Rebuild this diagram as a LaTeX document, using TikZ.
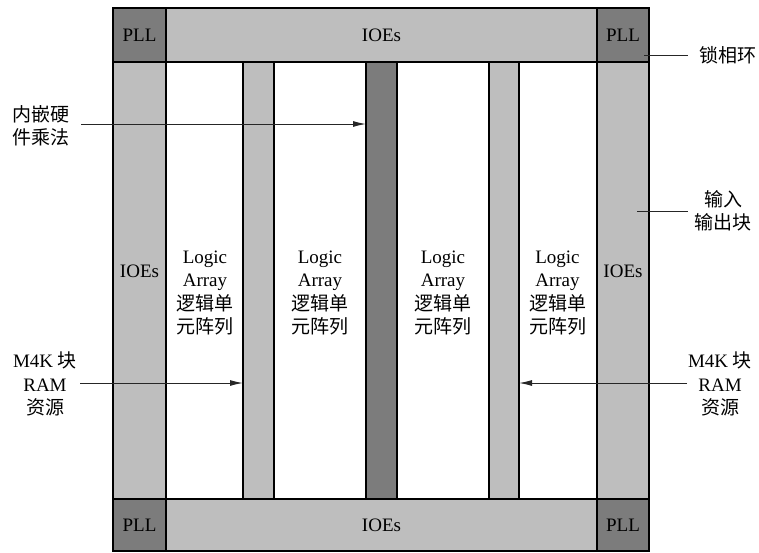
\documentclass[tikz,border=0pt]{standalone}
\usepackage{fontspec}
\setmainfont{Liberation Serif}
\newfontfamily\cjk{Noto Sans CJK SC}
\usetikzlibrary{arrows.meta}
\definecolor{barlight}{RGB}{190,190,190}
\definecolor{bardark}{RGB}{124,124,124}
\begin{document}
\begin{tikzpicture}[x=1pt,y=-1pt,
  cell/.style={draw=black, line width=1.3pt, rectangle, inner sep=0pt, outer sep=0pt,
    font=\fontsize{19}{22}\selectfont},
  light/.style={cell, fill=barlight},
  dark/.style={cell, fill=bardark},
  txt/.style={font=\fontsize{19}{23.5}\selectfont, align=center, inner sep=0pt},
  ann/.style={draw=black!85, line width=1pt},
  arr/.style={ann, -{Latex[length=13pt,width=6pt]}}
]
\useasboundingbox (0,0) rectangle (759,552);

% top row
\node[dark,  minimum width=53pt,  minimum height=54pt] (pllTL) at (139.5,35) {PLL};
\node[light, minimum width=431pt, minimum height=54pt] (ioeT)  at (381.5,35) {IOEs};
\node[dark,  minimum width=52pt,  minimum height=54pt] (pllTR) at (623,35)   {PLL};

% side I/O columns
\node[light, minimum width=53pt, minimum height=437pt] (ioeL) at (139.5,280.5) {};
\node[light, minimum width=52pt, minimum height=437pt] (ioeR) at (623,280.5) {};
\node[txt] (ioeLt) at (139.5,271) {IOEs};
\node[txt] (ioeRt) at (623,271) {IOEs};

% memory and multiplier columns
\node[light, minimum width=31pt, minimum height=437pt] (ram1) at (258.5,280.5) {};
\node[dark,  minimum width=31pt, minimum height=437pt] (mul)  at (381.5,280.5) {};
\node[light, minimum width=30pt, minimum height=437pt] (ram2) at (504,280.5) {};

% bottom row
\node[dark,  minimum width=53pt,  minimum height=52pt] (pllBL) at (139.5,525) {PLL};
\node[light, minimum width=431pt, minimum height=52pt] (ioeB)  at (381.5,525) {IOEs};
\node[dark,  minimum width=52pt,  minimum height=52pt] (pllBR) at (623,525)   {PLL};

% outer frame
\draw[line width=1.3pt] (pllTL.north west) rectangle (pllBR.south east);

% logic array blocks
\foreach \cx/\nm in {205/la1, 320/la2, 443/la3, 557.5/la4}
  \node[txt] (\nm) at (\cx,293) {Logic\\Array\\{\cjk 逻辑单}\\{\cjk 元阵列}};

% annotations
\node[txt] (mulLbl) at (41,126) {{\cjk 内嵌硬}\\{\cjk 件乘法}};
\coordinate (mulFrom) at (81,124);
\draw[arr] (mulFrom) -- (mulFrom -| mul.west);

\node[txt] (ramLbl1) at (45,384) {M4K {\cjk 块}\\RAM\\{\cjk 资源}};
\coordinate (ramFrom1) at (80,383);
\draw[arr] (ramFrom1) -- (ramFrom1 -| ram1.west);

\node[txt] (ramLbl2) at (720,384) {M4K {\cjk 块}\\RAM\\{\cjk 资源}};
\coordinate (ramFrom2) at (687,383);
\draw[arr] (ramFrom2) -- (ramFrom2 -| ram2.east);

\node[txt] (pllLbl) at (728,55) {\cjk 锁相环};
\coordinate (pllTo) at (688,55);
\coordinate (pllIn) at (644,55);
\draw[ann] (pllIn) -- (pllTo);

\node[txt] (ioLbl) at (723,211) {{\cjk 输入}\\{\cjk 输出块}};
\coordinate (ioTo) at (688,211);
\coordinate (ioIn) at (637,211);
\draw[ann] (ioIn) -- (ioTo);
\end{tikzpicture}
\end{document}
